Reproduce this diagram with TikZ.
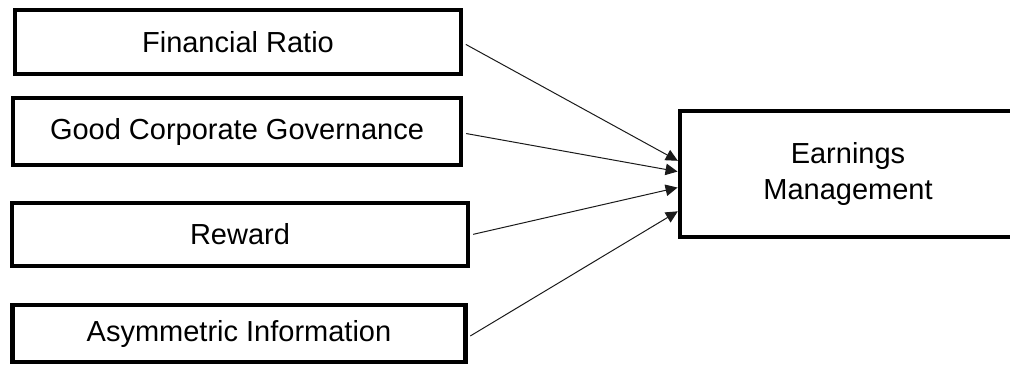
\documentclass[tikz,border=0pt]{standalone}
\usepackage{fontspec}
\setmainfont{Liberation Sans}
\usepackage{xcolor}
\usepackage{tikz}
\usetikzlibrary{arrows.meta,positioning,calc}
\definecolor{ink}{HTML}{000000}
\definecolor{wire}{HTML}{1A1A1A}
\tikzset{
  factor/.style={rectangle, draw=ink, line width=4.5pt, fill=white,
                 align=center, inner sep=0pt},
  target/.style={factor, draw=none, outer sep=0pt,
                 minimum width=336pt, minimum height=126pt},
  fl/.style={-{Triangle[length=12pt,width=11.5pt]}, draw=wire, line width=1pt,
             shorten <=3pt, shorten >=2.5pt}
}

\begin{document}
\begin{tikzpicture}[x=1pt, y=-1pt, font=\fontsize{29}{36}\selectfont]
  \useasboundingbox (0,0) rectangle (1010,365);
  \node[factor, minimum width=446pt, minimum height=64pt] (fr) at (238,42) {Financial Ratio};
  \node[factor, minimum width=448pt, minimum height=67pt] (gcg) at (237,131.5) {Good Corporate Governance};
  \node[factor, minimum width=456pt, minimum height=63pt] (rw) at (240,234.5) {Reward};
  \node[factor, minimum width=453pt, minimum height=57pt] (ai) at (239,333.5) {Asymmetric Information};
  \node[target] (em) at (848,174) {Earnings\\Management};
  % box runs on past the right edge
  \draw[line width=4.5pt, draw=ink] ($(em.north east)+(60,0)$) -- (em.north west)
    -- (em.south west) -- ($(em.south east)+(60,0)$);
  % factors into earnings management
  \draw[fl] ($(fr.east)+(0,1)$) -- ($(em.west)+(0,-12)$);
  \draw[fl] ($(gcg.east)+(0,1.5)$) -- ($(em.west)+(0,-2)$);
  \draw[fl] ($(rw.east)+(0,0.5)$) -- ($(em.west)+(0,13)$);
  \draw[fl] ($(ai.east)+(0,4)$) -- ($(em.west)+(0,36)$);
\end{tikzpicture}
\end{document}
